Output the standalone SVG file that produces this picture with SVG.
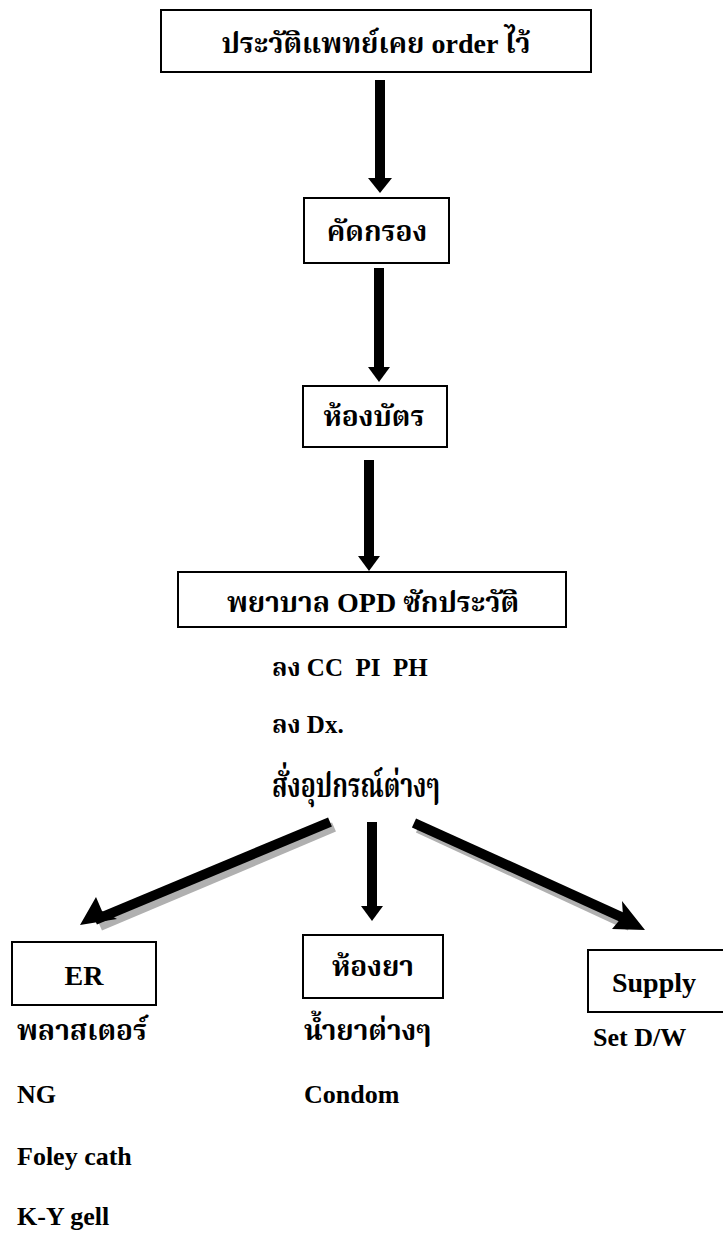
<svg xmlns="http://www.w3.org/2000/svg" width="723" height="1239" viewBox="0 0 723 1239">
<style>
.box{fill:#fff;stroke:#000;stroke-width:2}
.th{font-family:"Liberation Serif","Noto Serif Thai","Noto Sans Thai",serif;font-weight:bold;font-size:28px;fill:#000}
.en{font-family:"Liberation Serif","Noto Serif Thai","Noto Sans Thai",serif;font-weight:bold;font-size:26px;fill:#000}
.lbl{font-size:28px}
.note{font-size:25px}
.c{text-anchor:middle}
.shaft{stroke:#000;stroke-width:10;fill:none}
.shadow{stroke:#b0b0b0;stroke-width:10;fill:none}
</style>
<rect width="723" height="1239" fill="#fff"/>
<g id="connectors">
  <line class="shaft" x1="380" y1="80" x2="380" y2="180"/>
  <polygon points="368,178 392,178 380,193"/>
  <line class="shaft" x1="379" y1="268" x2="379" y2="369"/>
  <polygon points="368,367 390,367 379,382"/>
  <line class="shaft" x1="369" y1="460" x2="369" y2="558"/>
  <polygon points="358,556 380,556 369,571"/>
  <line class="shadow" x1="334" y1="827" x2="100" y2="926"/>
  <line class="shaft" x1="330" y1="822" x2="95" y2="920"/>
  <polygon points="80,925 96,897 102,911 117,919"/>
  <line class="shaft" x1="372" y1="822" x2="372" y2="908"/>
  <polygon points="361,906 383,906 372,921"/>
  <line class="shadow" x1="418" y1="828" x2="630" y2="926"/>
  <line class="shaft" x1="414" y1="823" x2="628" y2="920"/>
  <polygon points="645,930 612,929 623,916 622,901"/>
</g>
<g id="n1"><rect class="box" x="161" y="10" width="430" height="62"/><text class="th c" x="376" y="53">ประวัติแพทย์เคย order ไว้</text></g>
<g id="n2"><rect class="box" x="304" y="198" width="145" height="65"/><text class="th c" x="377" y="241">คัดกรอง</text></g>
<g id="n3"><rect class="box" x="303" y="386" width="144" height="61"/><text class="th c" x="374" y="426">ห้องบัตร</text></g>
<g id="n4"><rect class="box" x="178" y="572" width="388" height="55"/><text class="th c" x="373" y="612">พยาบาล OPD ซักประวัติ</text></g>
<g id="notes4">
  <text class="th note" x="272" y="676" style="white-space:pre">ลง CC  PI  PH</text>
  <text class="th note" x="272" y="733">ลง Dx.</text>
  <text class="th" x="272" y="797" style="font-size:33px" textLength="168" lengthAdjust="spacingAndGlyphs">สั่งอุปกรณ์ต่างๆ</text>
</g>
<g id="n5"><rect class="box" x="12" y="942" width="144" height="63"/><text class="en lbl c" x="84" y="985">ER</text></g>
<g id="n6"><rect class="box" x="303" y="935" width="140" height="63"/><text class="th c" x="373" y="976">ห้องยา</text></g>
<g id="n7"><rect class="box" x="588" y="950" width="140" height="62"/><text class="en lbl c" x="654" y="992">Supply</text></g>
<g id="list5">
  <text class="th" x="17" y="1040">พลาสเตอร์</text>
  <text class="en" x="17" y="1103">NG</text>
  <text class="en" x="17" y="1165">Foley cath</text>
  <text class="en" x="17" y="1225">K-Y gell</text>
</g>
<g id="list6">
  <text class="th" x="304" y="1040">น้ำยาต่างๆ</text>
  <text class="en" x="304" y="1103">Condom</text>
</g>
<g id="list7">
  <text class="en" x="593" y="1046">Set D/W</text>
</g>
</svg>
